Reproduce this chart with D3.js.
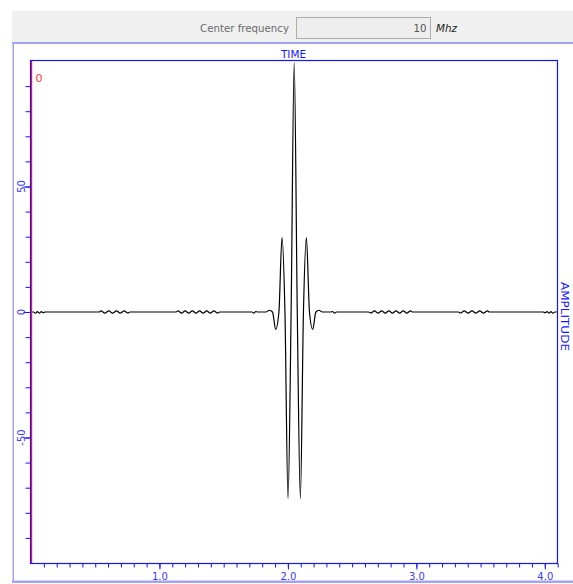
<!DOCTYPE html>
<html><head><meta charset="utf-8">
<script src="https://cdn.jsdelivr.net/npm/d3@7"></script>
<style>body{margin:0;background:#fff}svg{display:block}</style>
</head><body>
<script>
// ---- data ----
const timeValues = [
  0.000, 0.020, 0.035, 0.050, 0.065, 0.080, 0.095, 0.110,
  0.530, 0.545, 0.575, 0.605, 0.635, 0.665, 0.695, 0.725, 0.755, 0.770,
  1.130, 1.144, 1.172, 1.200, 1.228, 1.256, 1.284, 1.312, 1.340, 1.368, 1.396, 1.424, 1.452, 1.470,
  1.720, 1.735, 1.750, 1.765,
  1.830, 1.855, 1.880, 1.905, 1.930, 1.954, 1.977, 2.001, 2.025, 2.049,
  2.073, 2.097, 2.121, 2.144, 2.168, 2.193, 2.218, 2.243, 2.268,
  2.333, 2.348, 2.363, 2.378,
  2.628, 2.646, 2.674, 2.702, 2.730, 2.758, 2.786, 2.814, 2.842, 2.870, 2.898, 2.926, 2.954, 2.968,
  3.328, 3.343, 3.373, 3.403, 3.433, 3.463, 3.493, 3.523, 3.553, 3.568,
  3.988, 4.003, 4.018, 4.033, 4.048, 4.063, 4.078, 4.095
];
const amplitudeValues = [
  0, 0, -0.5, 0.15, -0.45, 0.15, -0.3, 0,
  0, 0.45, -0.45, 0.45, -0.45, 0.45, -0.45, 0.45, -0.4, 0,
  0, 0.45, -0.45, 0.45, -0.45, 0.45, -0.45, 0.45, -0.45, 0.45, -0.45, 0.45, -0.4, 0,
  0, -0.5, 0.2, 0,
  0, 0.7, 0, -6.9, 0, 29.6, 0, -74.3, 0, 99.5,
  0, -74.3, 0, 29.6, 0, -6.9, 0, 0.7, 0,
  0, 0.2, -0.5, 0,
  0, -0.4, 0.45, -0.45, 0.45, -0.45, 0.45, -0.45, 0.45, -0.45, 0.45, -0.45, 0.45, 0,
  0, -0.4, 0.45, -0.45, 0.45, -0.45, 0.45, -0.45, 0.45, 0,
  0, -0.3, 0.15, -0.45, 0.15, -0.5, 0, 0
];
const xTickLabels = ["1.0", "2.0", "3.0", "4.0"];
const yTickLabels = ["-50", "0", "50"];
const xDomain = [0, 4.095];
const yDomain = [-100, 100];
const xMinorStep = 0.1;
const yMinorStep = 10;
const centerFrequency = "10";
const frequencyUnit = "Mhz";
const frequencyLabel = "Center frequency";
const xTitle = "TIME";
const yTitle = "AMPLITUDE";
const cursorLabel = "0";

// ---- drawing ----
const W = 573, H = 584;
const BLUE = "#1414ff", LBLUE = "#a3a3f2", FONT = "DejaVu Sans, Verdana, sans-serif";
const svg = d3.select("body").append("svg").attr("width", W).attr("height", H);
svg.append("rect").attr("width", W).attr("height", H).attr("fill", "#fff");

// top panel
svg.append("rect").attr("x", 12).attr("y", 11).attr("width", W - 12).attr("height", 32).attr("fill", "#f0f0f0");
svg.append("text").attr("x", 200).attr("y", 32).attr("font-family", FONT).attr("font-size", 11)
  .attr("fill", "#6b6b6b").attr("textLength", 89).attr("lengthAdjust", "spacingAndGlyphs").text(frequencyLabel);
svg.append("rect").attr("x", 296.5).attr("y", 17.5).attr("width", 134).attr("height", 21)
  .attr("fill", "#eeeeee").attr("stroke", "#adadad");
svg.append("text").attr("x", 426.5).attr("y", 32).attr("text-anchor", "end").attr("font-family", FONT)
  .attr("font-size", 11).attr("fill", "#555").attr("textLength", 13).attr("lengthAdjust", "spacingAndGlyphs").text(centerFrequency);
svg.append("text").attr("x", 436).attr("y", 32).attr("font-family", FONT).attr("font-size", 11)
  .attr("font-style", "italic").attr("fill", "#222").attr("textLength", 21).attr("lengthAdjust", "spacingAndGlyphs").text(frequencyUnit);

// container borders
svg.append("rect").attr("x", 12).attr("y", 42).attr("width", W - 12).attr("height", 2).attr("fill", LBLUE);
svg.append("rect").attr("x", 12.5).attr("y", 44).attr("width", 1.5).attr("height", 538).attr("fill", LBLUE);
svg.append("rect").attr("x", 12).attr("y", 580.5).attr("width", W - 12).attr("height", 2.5).attr("fill", LBLUE);

// scales
const L = 31, R = 557, T = 61, B = 563;
const x = d3.scaleLinear().domain(xDomain).range([L, R]);
const y = d3.scaleLinear().domain(yDomain).range([B, T]);

// x axis minor + major ticks
const xMinor = d3.range(1, Math.round(xDomain[1] / xMinorStep) + 1).map(i => +(i * xMinorStep).toFixed(1));
svg.append("g").attr("transform", `translate(0,${B + 0.5})`)
  .call(d3.axisBottom(x).tickValues(xMinor).tickSize(4).tickFormat(""))
  .call(g => { g.select(".domain").remove(); g.selectAll("line").attr("stroke", BLUE); });
const xMajor = svg.append("g").attr("transform", `translate(0,${B + 0.5})`)
  .call(d3.axisBottom(x).tickValues(xTickLabels.map(Number)).tickSize(6).tickPadding(3).tickFormat((d, i) => xTickLabels[i]))
  .call(g => { g.select(".domain").remove(); g.selectAll("line").attr("stroke", BLUE); });
xMajor.selectAll("text").attr("fill", "#3a3aff").attr("font-family", FONT).attr("font-size", 10);

// y axis minor + major ticks
const yMinor = d3.range(Math.round(yDomain[0] / yMinorStep) + 1, Math.round(yDomain[1] / yMinorStep)).map(i => i * yMinorStep);
svg.append("g").attr("transform", `translate(${L - 0.5},0)`)
  .call(d3.axisLeft(y).tickValues(yMinor).tickSize(5).tickFormat(""))
  .call(g => { g.select(".domain").remove(); g.selectAll("line").attr("stroke", BLUE); });
svg.append("g").attr("transform", `translate(${L - 0.5},0)`)
  .call(d3.axisLeft(y).tickValues(yTickLabels.map(Number)).tickSize(7).tickFormat(""))
  .call(g => { g.select(".domain").remove(); g.selectAll("line").attr("stroke", BLUE); });
svg.append("g").selectAll("text").data(yTickLabels).join("text")
  .attr("transform", d => `translate(24.5,${y(+d)}) rotate(-90)`)
  .attr("text-anchor", "middle").attr("font-family", FONT).attr("font-size", 10)
  .attr("fill", "#3a3aff").text(d => d);

// clip + curve
svg.append("clipPath").attr("id", "plotclip").append("rect")
  .attr("x", L).attr("y", T).attr("width", R - L).attr("height", B - T);
const pts = timeValues.map((t, i) => [t, amplitudeValues[i]]);
const line = d3.line().x(d => x(d[0])).y(d => y(d[1])).curve(d3.curveMonotoneX);
svg.append("path").attr("clip-path", "url(#plotclip)").attr("d", line(pts))
  .attr("fill", "none").attr("stroke", "#000").attr("stroke-width", 1.2);

// cursor line at t=0
svg.append("line").attr("x1", x(0) + 0.6).attr("x2", x(0) + 0.6).attr("y1", T).attr("y2", B)
  .attr("stroke", "#ff1a1a").attr("stroke-width", 1.2);
svg.append("text").attr("x", 35.5).attr("y", 81.5).attr("font-family", FONT).attr("font-size", 11)
  .attr("fill", "#ff3838").text(cursorLabel);

// frame
svg.append("rect").attr("x", L - 0.5).attr("y", T - 0.5).attr("width", R - L + 1).attr("height", B - T + 1)
  .attr("fill", "none").attr("stroke", BLUE).attr("stroke-width", 1.2);

// titles
svg.append("text").attr("x", 293.5).attr("y", 58).attr("text-anchor", "middle").attr("font-family", FONT)
  .attr("font-size", 11).attr("fill", BLUE).attr("textLength", 25).attr("lengthAdjust", "spacingAndGlyphs").text(xTitle);
svg.append("text").attr("transform", `translate(561,316.5) rotate(90)`).attr("text-anchor", "middle")
  .attr("font-family", FONT).attr("font-size", 11).attr("fill", BLUE)
  .attr("textLength", 69).attr("lengthAdjust", "spacingAndGlyphs").text(yTitle);
</script>
</body></html>
